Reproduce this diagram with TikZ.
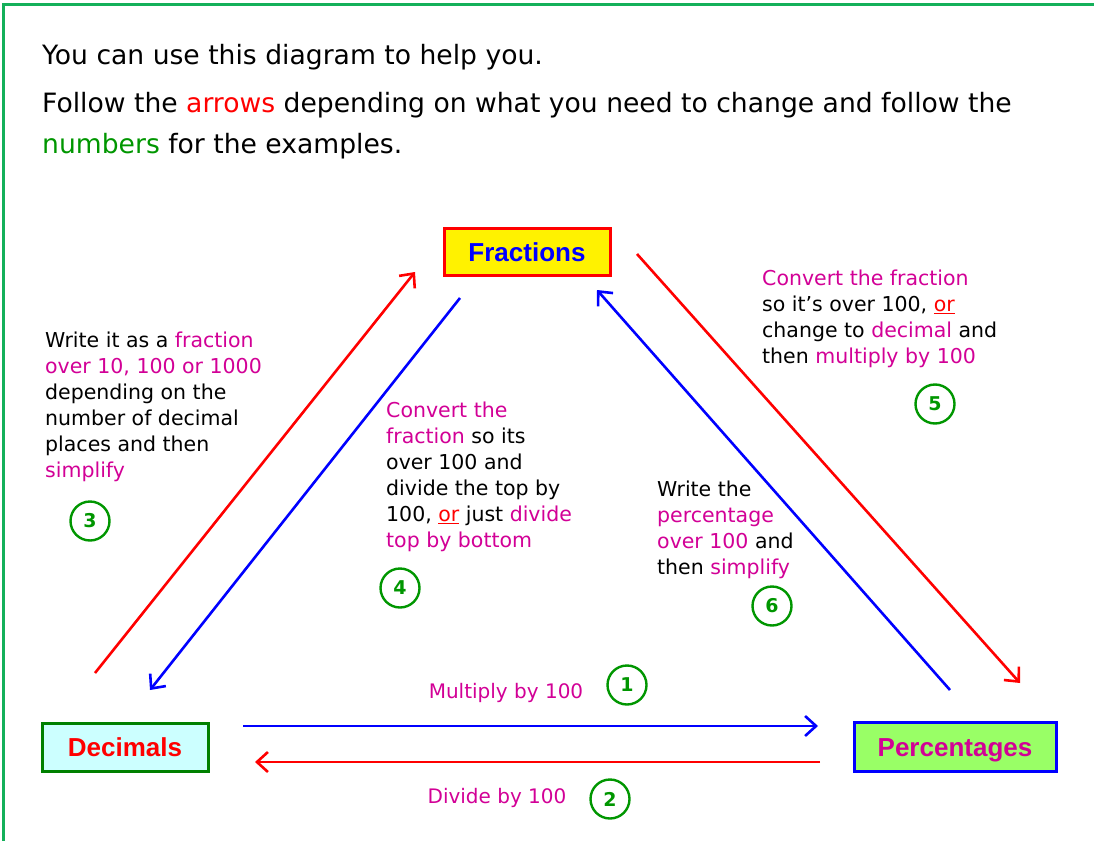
\documentclass[tikz,border=0pt]{standalone}
\usepackage{fontspec}
\setmainfont{DejaVu Sans}
\newfontfamily\boxfont{Liberation Sans}
\usetikzlibrary{arrows.meta}
\definecolor{frame}{RGB}{20,176,90}
\definecolor{mag}{RGB}{210,0,150}
\definecolor{numgreen}{RGB}{0,150,0}
\definecolor{ltcyan}{RGB}{204,255,255}
\definecolor{ltgreen}{RGB}{153,255,102}
\definecolor{dgreen}{RGB}{0,128,0}
\newcommand{\mg}[1]{\textcolor{mag}{#1}}
\newcommand{\orr}{\textcolor{red}{\underline{or}}}
\tikzset{
  x=1pt, y=-1pt,
  box/.style={draw, line width=3pt, inner sep=0pt, text height=19pt, text depth=0pt, font=\boxfont\bfseries\fontsize{26}{30}\selectfont},
  conn/.style={line width=2.6pt, -{Straight Barb[length=11pt,width=20pt,line width=2.6pt]}},
  num/.style={circle, draw=numgreen, line width=2.4pt, minimum size=39pt, inner sep=0pt, text=numgreen, font=\bfseries\fontsize{19}{22}\selectfont},
  txt/.style={anchor=north west, align=left, inner sep=0pt, font=\fontsize{20.5}{26}\selectfont},
  lbl/.style={anchor=center, inner sep=0pt, text=mag, font=\fontsize{20}{24}\selectfont},
}
\begin{document}
\begin{tikzpicture}
\useasboundingbox (0,0) rectangle (1094,840);
\draw[frame, line width=3pt] (3,842) -- (3,5) -- (1096,5);
% header
\node[anchor=north west, align=left, inner sep=0pt, font=\fontsize{26.6}{41}\selectfont] (head) at (42,44)
  {You can use this diagram to help you.\\[7pt]
   Follow the \textcolor{red}{arrows} depending on what you need to change and follow the\\
   \textcolor{numgreen}{numbers} for the examples.};
% boxes
\node[box, fill=yellow, draw=red, text=blue, minimum width=166pt, minimum height=47pt] (F) at (527,251.5) {Fractions};
\node[box, fill=ltcyan, draw=dgreen, text=red, minimum width=166pt, minimum height=48pt] (D) at (125,747) {Decimals};
\node[box, fill=ltgreen, draw=blue, text=mag, minimum width=202pt, minimum height=49pt] (P) at (955,746.5) {Percentages};
% connector endpoints
\coordinate (a1) at (95,673);   \coordinate (a2) at (415,272);
\coordinate (b1) at (460,298);  \coordinate (b2) at (150,690);
\coordinate (c1) at (950,690);  \coordinate (c2) at (597,290);
\coordinate (d1) at (637,254);  \coordinate (d2) at (1020,683);
\coordinate (e1) at (243,726);  \coordinate (e2) at (818,726);
\coordinate (f1) at (820,762);  \coordinate (f2) at (255,762);
\draw[conn, red]  (a1) -- (a2);
\draw[conn, blue] (b1) -- (b2);
\draw[conn, blue] (c1) -- (c2);
\draw[conn, red]  (d1) -- (d2);
\draw[conn, blue] (e1) -- (e2);
\draw[conn, red]  (f1) -- (f2);
% labels
\node[lbl] (l1) at (506,693) {Multiply by 100};
\node[lbl] (l2) at (497,798) {Divide by 100};
\node[num] (n1) at (627,685) {1};
\node[num] (n2) at (610,799) {2};
\node[txt] (t3) at (45,332) {Write it as a \mg{fraction}\\ \mg{over 10, 100 or 1000}\\ depending on the\\ number of decimal\\ places and then\\ \mg{simplify}};
\node[num] (n3) at (90,521) {3};
\node[txt] (t4) at (386,402) {\mg{Convert the}\\ \mg{fraction} so its\\ over 100 and\\ divide the top by\\ 100, \orr{} just \mg{divide}\\ \mg{top by bottom}};
\node[num] (n4) at (400,588) {4};
\node[txt] (t6) at (657,481) {Write the\\ \mg{percentage}\\ \mg{over 100} and\\ then \mg{simplify}};
\node[num] (n6) at (772,606) {6};
\node[txt] (t5) at (762,270) {\mg{Convert the fraction}\\ so it's over 100, \orr\\ change to \mg{decimal} and\\ then \mg{multiply by 100}};
\node[num] (n5) at (935,404) {5};
\end{tikzpicture}
\end{document}
